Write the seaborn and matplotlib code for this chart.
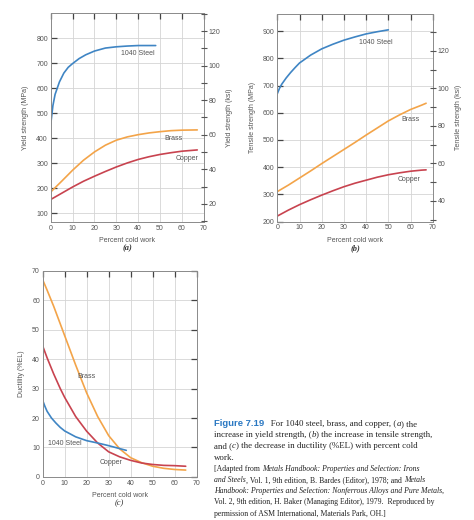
import matplotlib
matplotlib.use("Agg")
import matplotlib.pyplot as plt
import seaborn as sns
import pandas as pd
from matplotlib.ticker import MultipleLocator

sns.set_style("white")
plt.rcParams['font.family'] = ['Liberation Sans', 'DejaVu Sans']

# ---- data ----
# (a) yield strength, MPa
ys_steel_x = [0, 1, 2, 4, 6, 8, 10, 13, 16, 20, 25, 30, 35, 40, 45, 48]
ys_steel_y = [455, 530, 575, 625, 660, 683, 698, 718, 733, 748, 760, 765, 768, 770, 770, 770]
ys_brass_x = [0, 5, 10, 15, 20, 25, 30, 35, 40, 45, 50, 55, 60, 67]
ys_brass_y = [185, 228, 272, 312, 345, 372, 392, 405, 414, 421, 426, 430, 432, 433]
ys_copper_x = [0, 5, 10, 15, 20, 25, 30, 35, 40, 45, 50, 55, 60, 67]
ys_copper_y = [155, 180, 205, 228, 248, 267, 285, 301, 315, 326, 335, 342, 348, 353]

# (b) tensile strength, MPa
ts_steel_x = [0, 1, 2, 4, 6, 8, 10, 15, 20, 25, 30, 35, 40, 45, 50]
ts_steel_y = [670, 690, 705, 728, 748, 766, 783, 812, 835, 852, 867, 879, 890, 898, 905]
ts_brass_x = [0, 5, 10, 15, 20, 25, 30, 35, 40, 45, 50, 55, 60, 65, 67]
ts_brass_y = [310, 334, 360, 386, 413, 439, 465, 491, 518, 544, 570, 592, 612, 628, 635]
ts_copper_x = [0, 5, 10, 15, 20, 25, 30, 35, 40, 45, 50, 55, 60, 65, 67]
ts_copper_y = [220, 242, 262, 280, 297, 313, 328, 341, 352, 363, 372, 379, 385, 389, 390]

# (c) ductility, %EL
el_brass_x = [0, 2, 5, 8, 10, 15, 20, 25, 30, 35, 40, 45, 50, 55, 60, 65]
el_brass_y = [67, 63.5, 58, 52, 48, 38, 28.5, 20.5, 14, 9.5, 6.5, 4.8, 3.6, 2.9, 2.5, 2.3]
el_copper_x = [0, 2, 5, 8, 10, 15, 20, 25, 30, 35, 40, 45, 50, 55, 60, 65]
el_copper_y = [44.5, 40.5, 35, 30, 27, 20.5, 15.5, 11.5, 8.5, 6.8, 5.6, 4.7, 4.2, 3.9, 3.8, 3.6]
el_steel_x = [0, 1, 2, 4, 6, 8, 10, 15, 20, 25, 30, 35, 38]
el_steel_y = [26, 24, 22.3, 20, 18.3, 16.8, 15.6, 13.6, 12.3, 11.5, 10.6, 9.6, 9]

steel_c = "#3f85c4"
brass_c = "#f3a449"
copper_c = "#c8434f"
grid_c = "#d4d4d4"
spine_c = "#8a8a8a"
txt_c = "#555555"
MPA_PER_KSI = 6.895


def curve(ax, xs, ys, color):
    df = pd.DataFrame({"x": xs, "y": ys})
    sns.lineplot(data=df, x="x", y="y", ax=ax, color=color, lw=1.2, sort=False)


def style(ax, ylim, ystep):
    ax.set_xlim(0, 70)
    ax.set_ylim(*ylim)
    ax.xaxis.set_major_locator(MultipleLocator(10))
    ax.yaxis.set_major_locator(MultipleLocator(ystep))
    ax.grid(True, color=grid_c, lw=0.6)
    ax.tick_params(direction="in", length=4, width=0.9, color="#444444",
                   labelsize=5, labelcolor=txt_c, top=True, pad=2)
    ax.tick_params(axis="y", right=False)
    for s in ax.spines.values():
        s.set_color(spine_c)
        s.set_linewidth(0.7)
    ax.set_xlabel("Percent cold work", fontsize=5, color=txt_c, labelpad=4)


def ksi_axis(ax, ylim, label):
    a2 = ax.twinx()
    a2.set_ylim(ylim[0] / MPA_PER_KSI, ylim[1] / MPA_PER_KSI)
    a2.yaxis.set_major_locator(MultipleLocator(20))
    a2.yaxis.set_minor_locator(MultipleLocator(10))
    a2.tick_params(axis="y", which="both", direction="inout", length=5, width=0.8,
                   color="#555555", labelsize=5, labelcolor=txt_c, pad=1)
    a2.tick_params(axis="y", which="minor", length=4)
    a2.set_ylabel(label, fontsize=5, color=txt_c, labelpad=4)
    for s in a2.spines.values():
        s.set_visible(False)
    return a2


def panel_tag(ax, tag, y, bold=True):
    ax.text(0.5, y, tag, transform=ax.transAxes, ha="center", va="top",
            fontsize=6, style="italic", weight="bold" if bold else "normal",
            color="#333333", family="Liberation Serif")


fig = plt.figure(figsize=(4.74, 5.2), dpi=100)

# ---- (a) ----
axa = fig.add_axes([0.107, 0.573, 0.323, 0.402])
ylim_a = (65, 900)
curve(axa, ys_steel_x, ys_steel_y, steel_c)
curve(axa, ys_brass_x, ys_brass_y, brass_c)
curve(axa, ys_copper_x, ys_copper_y, copper_c)
style(axa, ylim_a, 100)
axa.set_yticks(range(100, 900, 100))
axa.set_ylabel("Yield strength (MPa)", fontsize=5, color=txt_c, labelpad=5)
ksi_axis(axa, ylim_a, "Yield strength (ksi)")
axa.text(32, 739, "1040 Steel", fontsize=5, color=txt_c, va="center")
axa.text(52, 400, "Brass", fontsize=5, color=txt_c, va="center")
axa.text(57, 320, "Copper", fontsize=5, color=txt_c, va="center")
panel_tag(axa, "(a)", -0.108)

# ---- (b) ----
axb = fig.add_axes([0.585, 0.574, 0.328, 0.400])
ylim_b = (200, 965)
curve(axb, ts_steel_x, ts_steel_y, steel_c)
curve(axb, ts_brass_x, ts_brass_y, brass_c)
curve(axb, ts_copper_x, ts_copper_y, copper_c)
style(axb, ylim_b, 100)
axb.set_yticks(range(200, 1000, 100))
axb.set_ylabel("Tensile strength (MPa)", fontsize=5, color=txt_c, labelpad=5)
ksi_axis(axb, ylim_b, "Tensile strength (ksi)")
axb.text(37, 860, "1040 Steel", fontsize=5, color=txt_c, va="center")
axb.text(56, 574, "Brass", fontsize=5, color=txt_c, va="center")
axb.text(54, 355, "Copper", fontsize=5, color=txt_c, va="center")
panel_tag(axb, "(b)", -0.108)

# ---- (c) ----
axc = fig.add_axes([0.090, 0.083, 0.325, 0.396])
curve(axc, el_brass_x, el_brass_y, brass_c)
curve(axc, el_copper_x, el_copper_y, copper_c)
curve(axc, el_steel_x, el_steel_y, steel_c)
style(axc, (0, 70), 10)
axc.tick_params(axis="y", right=True)
axc.set_ylabel("Ductility (%EL)", fontsize=5, color=txt_c, labelpad=5)
axc.text(16, 34, "Brass", fontsize=5, color=txt_c, va="center")
axc.text(2.3, 11.2, "1040 Steel", fontsize=5, color=txt_c, va="center")
axc.text(26, 4.8, "Copper", fontsize=5, color=txt_c, va="center")
panel_tag(axc, "(c)", -0.108, bold=False)

# ---- caption ----
cap_lines = [
    [("Figure 7.19", "b"), ("   For 1040 steel, brass, and copper, (", "n"), ("a", "i"), (") the", "n")],
    [("increase in yield strength, (", "n"), ("b", "i"), (") the increase in tensile strength,", "n")],
    [("and (", "n"), ("c", "i"), (") the decrease in ductility (%EL) with percent cold", "n")],
    [("work.", "n")],
    [("[Adapted from ", "n"), ("Metals Handbook: Properties and Selection: Irons", "i")],
    [("and Steels", "i"), (", Vol. 1, 9th edition, B. Bardes (Editor), 1978; and ", "n"), ("Metals", "i")],
    [("Handbook: Properties and Selection: Nonferrous Alloys and Pure Metals", "i"), (",", "n")],
    [("Vol. 2, 9th edition, H. Baker (Managing Editor), 1979.  Reproduced by", "n")],
    [("permission of ASM International, Materials Park, OH.]", "n")],
]
renderer = fig.canvas.get_renderer()
y_px = 424
for i, line in enumerate(cap_lines):
    x = 214 / 474
    small = i >= 4
    for txt, kind in line:
        kw = dict(fontsize=5.6 if small else 6.4, color="#222222",
                  family="Liberation Serif", va="center")
        if kind == "b":
            kw.update(family="Liberation Sans", weight="bold", color="#2a78c2", fontsize=6.8)
        elif kind == "i":
            kw.update(style="italic")
        t = fig.text(x, 1 - y_px / 520, txt, **kw)
        x += t.get_window_extent(renderer=renderer).width / fig.bbox.width
    y_px += 11.2

fig.savefig("out.png", dpi=100)
